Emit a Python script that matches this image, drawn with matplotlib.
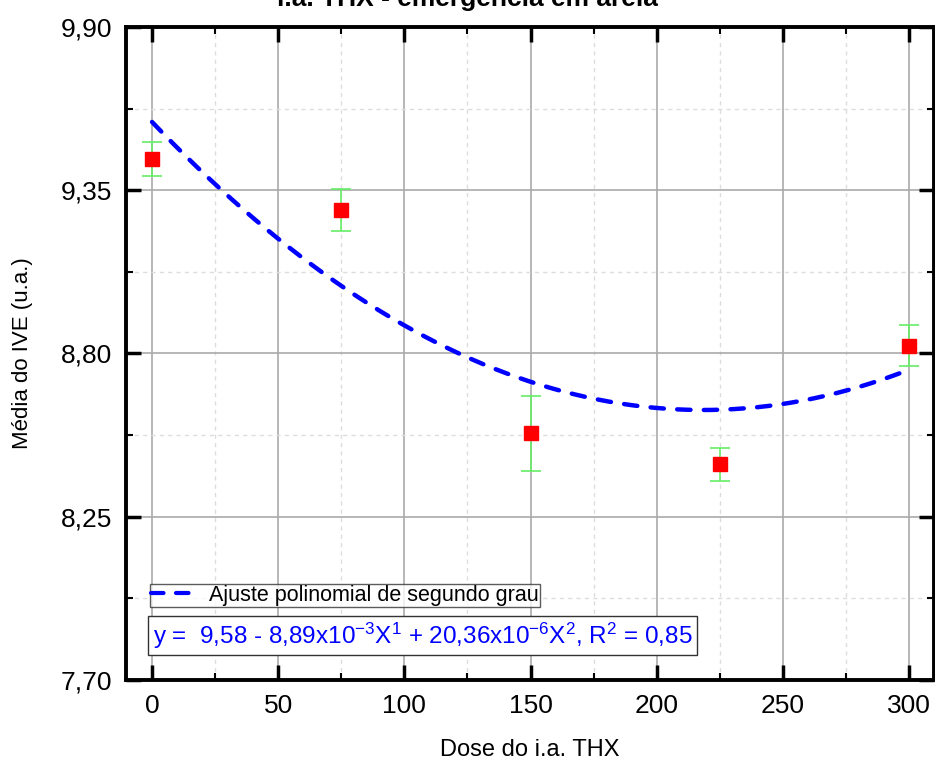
import numpy as np
import matplotlib.pyplot as plt
from matplotlib.ticker import MultipleLocator, FuncFormatter
from matplotlib.lines import Line2D

plt.rcParams['font.family'] = ['Liberation Sans', 'DejaVu Sans']
plt.rcParams['mathtext.default'] = 'regular'

# doses e médias do IVE
dose = [0, 75, 150, 225, 300]
ive = [9.455, 9.283, 8.531, 8.427, 8.826]
erro = [0.056, 0.071, 0.126, 0.055, 0.069]

# coeficientes do ajuste polinomial
c0, c1, c2 = 9.58, -8.89e-3, 20.36e-6

fig = plt.figure(figsize=(9.35, 7.6), dpi=100)
ax = fig.add_axes([0.1348, 0.1053, 0.864, 0.8592])

xs = np.linspace(0, 300, 200)
ax.plot(xs, c0 + c1 * xs + c2 * xs ** 2, color='#0000ff', lw=3.2,
        dashes=(3, 3), dash_capstyle='round', zorder=3)
ax.errorbar(dose, ive, yerr=erro, fmt='none', ecolor='#66ee66', elinewidth=1.2,
            capsize=7, capthick=1.2, zorder=4)
ax.plot(dose, ive, 's', color='#ff0000', ms=10, zorder=5)

ax.set_xlim(-10.3, 309.8)
ax.set_ylim(7.70, 9.90)
ax.xaxis.set_major_locator(MultipleLocator(50))
ax.xaxis.set_minor_locator(MultipleLocator(25))
ax.yaxis.set_major_locator(MultipleLocator(0.55))
ax.yaxis.set_minor_locator(MultipleLocator(0.275))
ax.yaxis.set_major_formatter(FuncFormatter(lambda v, p: f'{v:.2f}'.replace('.', ',')))

ax.grid(which='major', color='#aaaaaa', lw=1.2)
ax.grid(which='minor', color='#dddddd', lw=1.0, ls=(0, (3, 3)))
ax.set_axisbelow(True)

ax.tick_params(which='both', direction='in', top=True, right=True,
               labelsize=19, width=2.5, pad=10)
ax.tick_params(which='major', length=11)
ax.tick_params(which='minor', length=5, width=1.5)
for s in ax.spines.values():
    s.set_linewidth(2.8)

ax.set_xlabel('Dose do i.a. THX', fontsize=17, labelpad=15)
ax.set_ylabel('Média do IVE (u.a.)', fontsize=16, labelpad=20)

fig.text(0.5, 1 - 6 / 760, 'i.a. THX - emergência em areia', ha='center',
         va='baseline', fontsize=19, fontweight='bold')

handle = Line2D([], [], color='#0000ff', lw=3, dashes=(3, 3),
                dash_capstyle='round')
leg = ax.legend([handle], ['Ajuste polinomial de segundo grau'], loc='lower left',
                bbox_to_anchor=(0.0297, 0.112), fontsize=15.5, frameon=True,
                fancybox=False, handlelength=2.3, handletextpad=0.4,
                borderpad=0.05, borderaxespad=0)
leg.get_frame().set_edgecolor('#333333')
leg.get_frame().set_linewidth(1.0)

ax.text(0.033, 0.045,
        r'y =  9,58 - 8,89x10$^{-3}$X$^1$ + 20,36x10$^{-6}$X$^2$, R$^2$ = 0,85',
        transform=ax.transAxes, color='#0000ff', fontsize=17.5, va='bottom',
        bbox=dict(boxstyle='square,pad=0.2', fc='white', ec='#333333', lw=1.0))

fig.savefig('out.png', dpi=100)
